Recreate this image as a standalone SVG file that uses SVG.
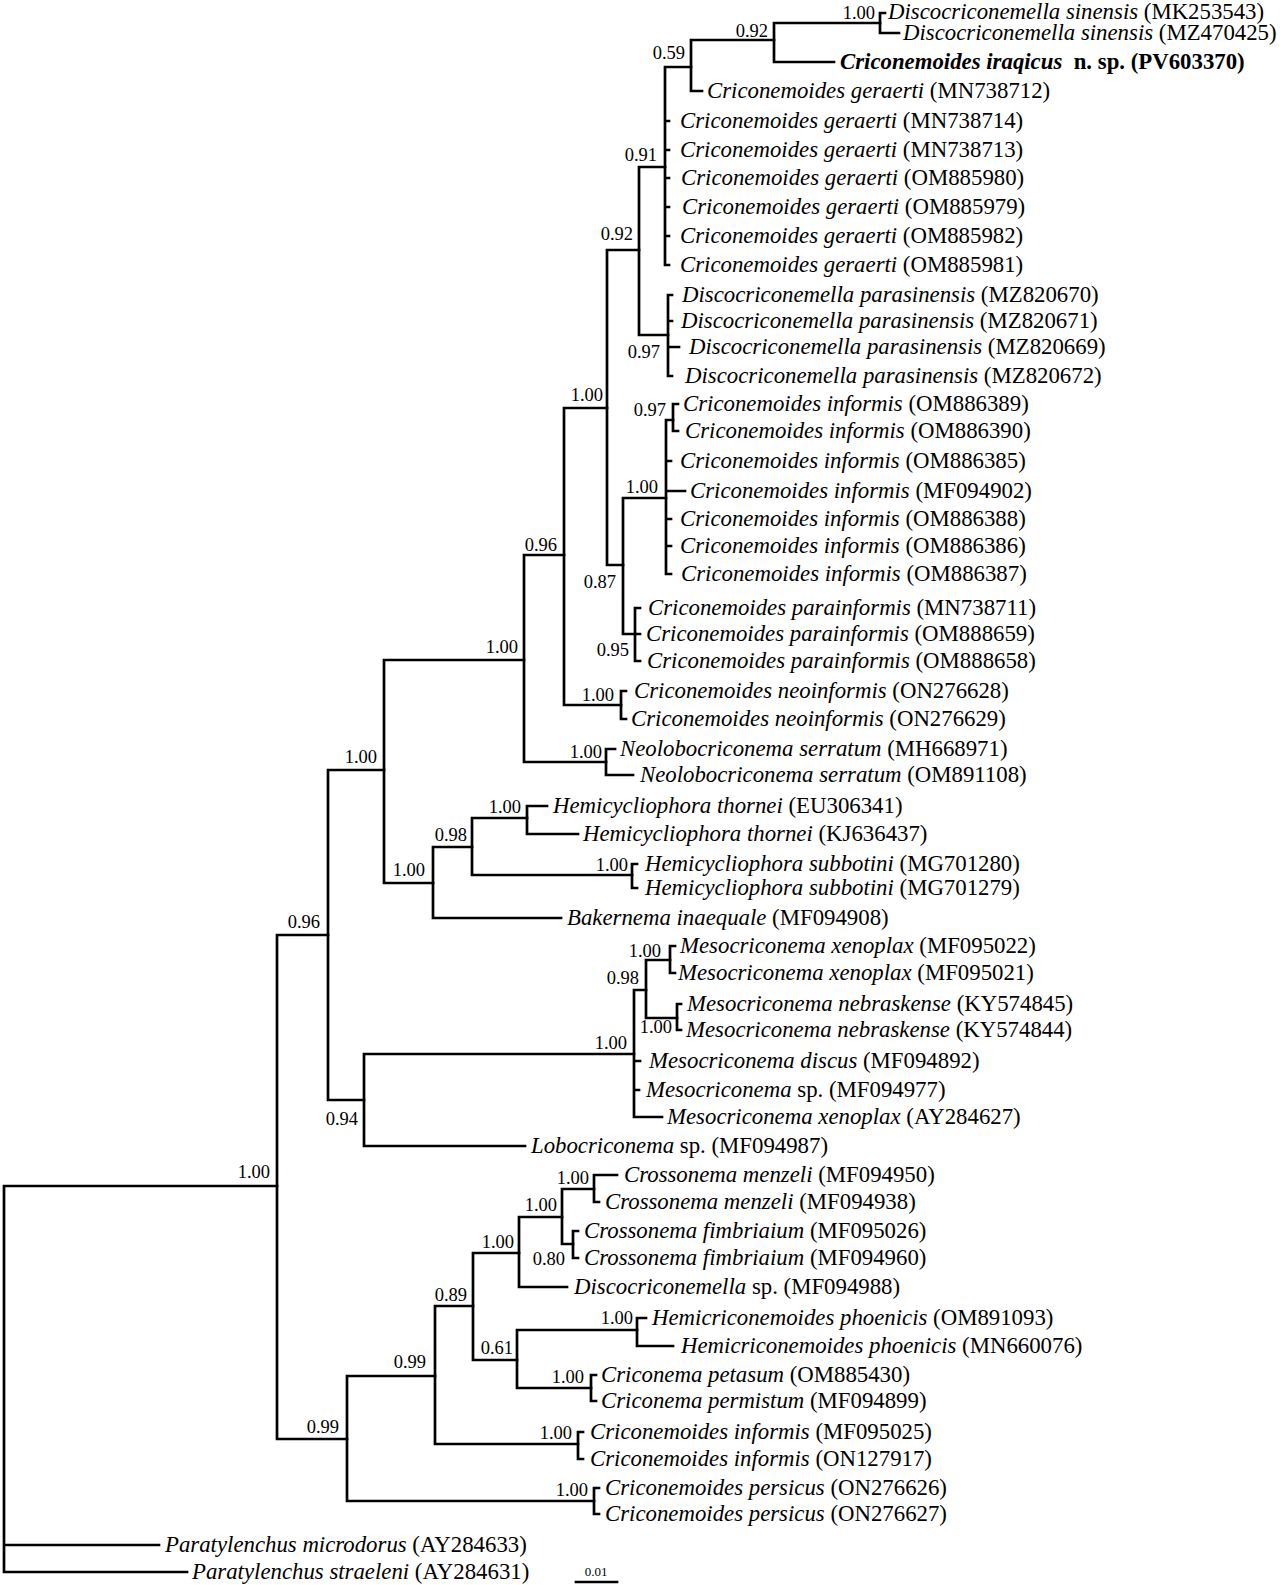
<svg xmlns="http://www.w3.org/2000/svg" width="1280" height="1585" viewBox="0 0 1280 1585">
<style>
.l{font-family:"Liberation Serif","Times New Roman",serif;font-size:22.8px;fill:#000}
.i{font-style:italic}
.b{font-weight:bold}
.s{font-family:"Liberation Serif","Times New Roman",serif;font-size:18.5px;fill:#000;text-anchor:end}
.c{fill:none;stroke:#000;stroke-width:2.7;stroke-linecap:square}
</style>
<rect width="1280" height="1585" fill="#fff"/>
<g id="connectors" class="c">
<path d="M4 1186V1572M4 1186H277M4 1545H159M4 1572H187"/>
<path d="M277 935V1439M277 935H328M277 1439H347"/>
<path d="M328 770V1100M328 770H384M328 1100H364"/>
<path d="M384 660V883M384 660H524M384 883H433"/>
<path d="M524 555V762M524 555H564M524 762H606"/>
<path d="M564 408V705M564 408H607M564 705H621"/>
<path d="M607 250V565M607 250H639M607 565H623"/>
<path d="M639 167V335M639 167H665M639 335H668"/>
<path d="M665 67V265M665 67H691M665 121H669M665 150H669M665 178H669M665 207H669M665 236H669M665 265H669"/>
<path d="M691 40V91M691 40H774M691 91H702"/>
<path d="M774 23V62M774 23H880M774 62H834"/>
<path d="M880 13V33M880 13H885M880 33H899"/>
<path d="M668 295V376M668 295H672M668 321H672M668 347H679M668 376H672"/>
<path d="M623 498V634M623 498H666M623 634H635"/>
<path d="M666 420V574M666 420H673M666 461H671M666 491H685M666 519H671M666 546H671M666 574H671"/>
<path d="M673 404V431M673 404H678M673 431H678"/>
<path d="M635 608V661M635 608H640M635 634H640M635 661H640"/>
<path d="M621 691V719M621 691H626M621 719H626"/>
<path d="M606 749V775M606 749H615M606 775H633"/>
<path d="M433 847V918M433 847H472M433 918H561"/>
<path d="M472 818V875M472 818H527M472 875H632"/>
<path d="M527 806V834M527 806H547M527 834H578"/>
<path d="M632 864V888M632 864H637M632 888H637"/>
<path d="M364 1054V1146M364 1054H634M364 1146H525"/>
<path d="M634 990V1117M634 990H646M634 1061H640M634 1090H639M634 1117H662"/>
<path d="M646 960V1018M646 960H670M646 1018H677"/>
<path d="M670 946V973M670 946H675M670 973H675"/>
<path d="M677 1004V1030M677 1004H681M677 1030H681"/>
<path d="M347 1376V1501M347 1376H435M347 1501H594"/>
<path d="M435 1306V1444M435 1306H473M435 1444H578"/>
<path d="M473 1253V1360M473 1253H519M473 1360H517"/>
<path d="M519 1217V1287M519 1217H562M519 1287H567"/>
<path d="M562 1189V1244M562 1189H594M562 1244H573"/>
<path d="M594 1175V1202M594 1175H617M594 1202H599"/>
<path d="M573 1231V1258M573 1231H578M573 1258H578"/>
<path d="M517 1330V1388M517 1330H637M517 1388H591"/>
<path d="M637 1318V1346M637 1318H646M637 1346H673"/>
<path d="M591 1375V1401M591 1375H596M591 1401H596"/>
<path d="M578 1432V1459M578 1432H583M578 1459H583"/>
<path d="M594 1488V1514M594 1488H599M594 1514H599"/>
</g>
<g id="support">
<g id="nA"><text class="s" x="270" y="1178">1.00</text></g>
<g id="nB"><text class="s" x="320" y="928">0.96</text></g>
<g id="nL99"><text class="s" x="339" y="1433">0.99</text></g>
<g id="nC"><text class="s" x="377" y="763">1.00</text></g>
<g id="nML"><text class="s" x="358" y="1125">0.94</text></g>
<g id="nD"><text class="s" x="518" y="653">1.00</text></g>
<g id="nE"><text class="s" x="425" y="876">1.00</text></g>
<g id="nF"><text class="s" x="557" y="551">0.96</text></g>
<g id="nN1"><text class="s" x="602" y="758">1.00</text></g>
<g id="nG"><text class="s" x="603" y="401">1.00</text></g>
<g id="nN2"><text class="s" x="614" y="701">1.00</text></g>
<g id="nH"><text class="s" x="633" y="240">0.92</text></g>
<g id="nI"><text class="s" x="616" y="588">0.87</text></g>
<g id="nGe"><text class="s" x="657" y="161">0.91</text></g>
<g id="nP"><text class="s" x="660" y="358">0.97</text></g>
<g id="nN59"><text class="s" x="685" y="59">0.59</text></g>
<g id="nN92"><text class="s" x="768" y="37">0.92</text></g>
<g id="nS"><text class="s" x="875" y="19">1.00</text></g>
<g id="nInf"><text class="s" x="658" y="493">1.00</text></g>
<g id="nInf97"><text class="s" x="666" y="416">0.97</text></g>
<g id="nPI"><text class="s" x="629" y="656">0.95</text></g>
<g id="nN98E"><text class="s" x="467" y="841">0.98</text></g>
<g id="nT"><text class="s" x="521" y="813">1.00</text></g>
<g id="nSu"><text class="s" x="628" y="871">1.00</text></g>
<g id="nM"><text class="s" x="627" y="1049">1.00</text></g>
<g id="nM98"><text class="s" x="639" y="984">0.98</text></g>
<g id="nX"><text class="s" x="661" y="957">1.00</text></g>
<g id="nNb"><text class="s" x="672" y="1033">1.00</text></g>
<g id="nN99u"><text class="s" x="426" y="1368">0.99</text></g>
<g id="nN89"><text class="s" x="467" y="1301">0.89</text></g>
<g id="nInfM"><text class="s" x="572" y="1439">1.00</text></g>
<g id="nPe"><text class="s" x="588" y="1496">1.00</text></g>
<g id="nN100c"><text class="s" x="514" y="1248">1.00</text></g>
<g id="nN61"><text class="s" x="513" y="1354">0.61</text></g>
<g id="nN100d"><text class="s" x="557" y="1211">1.00</text></g>
<g id="nMz"><text class="s" x="589" y="1184">1.00</text></g>
<g id="nFi"><text class="s" x="565" y="1265">0.80</text></g>
<g id="nPh"><text class="s" x="633" y="1324">1.00</text></g>
<g id="nCr"><text class="s" x="584" y="1383">1.00</text></g>
</g>
<g id="leaves">
<g id="t1"><text class="l" x="888" y="19"><tspan class="i">Discocriconemella sinensis</tspan> (MK253543)</text></g>
<g id="t2"><text class="l" x="903" y="40"><tspan class="i">Discocriconemella sinensis</tspan> (MZ470425)</text></g>
<g id="t3"><text class="l b" x="840" y="69" xml:space="preserve"><tspan class="i">Criconemoides iraqicus</tspan>  n. sp. (PV603370)</text></g>
<g id="t4"><text class="l" x="707" y="98"><tspan class="i">Criconemoides geraerti</tspan> (MN738712)</text></g>
<g id="t5"><text class="l" x="680" y="128"><tspan class="i">Criconemoides geraerti</tspan> (MN738714)</text></g>
<g id="t6"><text class="l" x="680" y="157"><tspan class="i">Criconemoides geraerti</tspan> (MN738713)</text></g>
<g id="t7"><text class="l" x="681" y="185"><tspan class="i">Criconemoides geraerti</tspan> (OM885980)</text></g>
<g id="t8"><text class="l" x="682" y="214"><tspan class="i">Criconemoides geraerti</tspan> (OM885979)</text></g>
<g id="t9"><text class="l" x="680" y="243"><tspan class="i">Criconemoides geraerti</tspan> (OM885982)</text></g>
<g id="t10"><text class="l" x="680" y="272"><tspan class="i">Criconemoides geraerti</tspan> (OM885981)</text></g>
<g id="t11"><text class="l" x="682" y="302"><tspan class="i">Discocriconemella parasinensis</tspan> (MZ820670)</text></g>
<g id="t12"><text class="l" x="681" y="328"><tspan class="i">Discocriconemella parasinensis</tspan> (MZ820671)</text></g>
<g id="t13"><text class="l" x="689" y="354"><tspan class="i">Discocriconemella parasinensis</tspan> (MZ820669)</text></g>
<g id="t14"><text class="l" x="685" y="383"><tspan class="i">Discocriconemella parasinensis</tspan> (MZ820672)</text></g>
<g id="t15"><text class="l" x="683" y="411"><tspan class="i">Criconemoides informis</tspan> (OM886389)</text></g>
<g id="t16"><text class="l" x="685" y="438"><tspan class="i">Criconemoides informis</tspan> (OM886390)</text></g>
<g id="t17"><text class="l" x="680" y="468"><tspan class="i">Criconemoides informis</tspan> (OM886385)</text></g>
<g id="t18"><text class="l" x="690" y="498"><tspan class="i">Criconemoides informis</tspan> (MF094902)</text></g>
<g id="t19"><text class="l" x="680" y="526"><tspan class="i">Criconemoides informis</tspan> (OM886388)</text></g>
<g id="t20"><text class="l" x="680" y="553"><tspan class="i">Criconemoides informis</tspan> (OM886386)</text></g>
<g id="t21"><text class="l" x="681" y="581"><tspan class="i">Criconemoides informis</tspan> (OM886387)</text></g>
<g id="t22"><text class="l" x="648" y="615"><tspan class="i">Criconemoides parainformis</tspan> (MN738711)</text></g>
<g id="t23"><text class="l" x="646" y="641"><tspan class="i">Criconemoides parainformis</tspan> (OM888659)</text></g>
<g id="t24"><text class="l" x="647" y="668"><tspan class="i">Criconemoides parainformis</tspan> (OM888658)</text></g>
<g id="t25"><text class="l" x="634" y="698"><tspan class="i">Criconemoides neoinformis</tspan> (ON276628)</text></g>
<g id="t26"><text class="l" x="631" y="726"><tspan class="i">Criconemoides neoinformis</tspan> (ON276629)</text></g>
<g id="t27"><text class="l" x="620" y="756"><tspan class="i">Neolobocriconema serratum</tspan> (MH668971)</text></g>
<g id="t28"><text class="l" x="640" y="782"><tspan class="i">Neolobocriconema serratum</tspan> (OM891108)</text></g>
<g id="t29"><text class="l" x="553" y="813"><tspan class="i">Hemicycliophora thornei</tspan> (EU306341)</text></g>
<g id="t30"><text class="l" x="583" y="841"><tspan class="i">Hemicycliophora thornei</tspan> (KJ636437)</text></g>
<g id="t31"><text class="l" x="645" y="871"><tspan class="i">Hemicycliophora subbotini</tspan> (MG701280)</text></g>
<g id="t32"><text class="l" x="645" y="895"><tspan class="i">Hemicycliophora subbotini</tspan> (MG701279)</text></g>
<g id="t33"><text class="l" x="567" y="925"><tspan class="i">Bakernema inaequale</tspan> (MF094908)</text></g>
<g id="t34"><text class="l" x="680" y="953"><tspan class="i">Mesocriconema xenoplax</tspan> (MF095022)</text></g>
<g id="t35"><text class="l" x="678" y="980"><tspan class="i">Mesocriconema xenoplax</tspan> (MF095021)</text></g>
<g id="t36"><text class="l" x="687" y="1011"><tspan class="i">Mesocriconema nebraskense</tspan> (KY574845)</text></g>
<g id="t37"><text class="l" x="686" y="1037"><tspan class="i">Mesocriconema nebraskense</tspan> (KY574844)</text></g>
<g id="t38"><text class="l" x="649" y="1068"><tspan class="i">Mesocriconema discus</tspan> (MF094892)</text></g>
<g id="t39"><text class="l" x="646" y="1097"><tspan class="i">Mesocriconema</tspan> sp. (MF094977)</text></g>
<g id="t40"><text class="l" x="667" y="1124"><tspan class="i">Mesocriconema xenoplax</tspan> (AY284627)</text></g>
<g id="t41"><text class="l" x="531" y="1153"><tspan class="i">Lobocriconema</tspan> sp. (MF094987)</text></g>
<g id="t42"><text class="l" x="624" y="1182"><tspan class="i">Crossonema menzeli</tspan> (MF094950)</text></g>
<g id="t43"><text class="l" x="605" y="1209"><tspan class="i">Crossonema menzeli</tspan> (MF094938)</text></g>
<g id="t44"><text class="l" x="584" y="1238"><tspan class="i">Crossonema fimbriaium</tspan> (MF095026)</text></g>
<g id="t45"><text class="l" x="584" y="1265"><tspan class="i">Crossonema fimbriaium</tspan> (MF094960)</text></g>
<g id="t46"><text class="l" x="574" y="1294"><tspan class="i">Discocriconemella</tspan> sp. (MF094988)</text></g>
<g id="t47"><text class="l" x="652" y="1325"><tspan class="i">Hemicriconemoides phoenicis</tspan> (OM891093)</text></g>
<g id="t48"><text class="l" x="681" y="1353"><tspan class="i">Hemicriconemoides phoenicis</tspan> (MN660076)</text></g>
<g id="t49"><text class="l" x="601" y="1382"><tspan class="i">Criconema petasum</tspan> (OM885430)</text></g>
<g id="t50"><text class="l" x="601" y="1408"><tspan class="i">Criconema permistum</tspan> (MF094899)</text></g>
<g id="t51"><text class="l" x="590" y="1439"><tspan class="i">Criconemoides informis</tspan> (MF095025)</text></g>
<g id="t52"><text class="l" x="590" y="1466"><tspan class="i">Criconemoides informis</tspan> (ON127917)</text></g>
<g id="t53"><text class="l" x="605" y="1495"><tspan class="i">Criconemoides persicus</tspan> (ON276626)</text></g>
<g id="t54"><text class="l" x="605" y="1521"><tspan class="i">Criconemoides persicus</tspan> (ON276627)</text></g>
<g id="t55"><text class="l" x="165" y="1552"><tspan class="i">Paratylenchus microdorus</tspan> (AY284633)</text></g>
<g id="t56"><text class="l" x="192" y="1579"><tspan class="i">Paratylenchus straeleni</tspan> (AY284631)</text></g>
</g>
<g id="scalebar">
<line x1="576" y1="1582" x2="617" y2="1582" class="c"/>
<text x="596" y="1576" font-family="Liberation Serif, serif" font-size="13" text-anchor="middle">0.01</text>
</g>
</svg>
